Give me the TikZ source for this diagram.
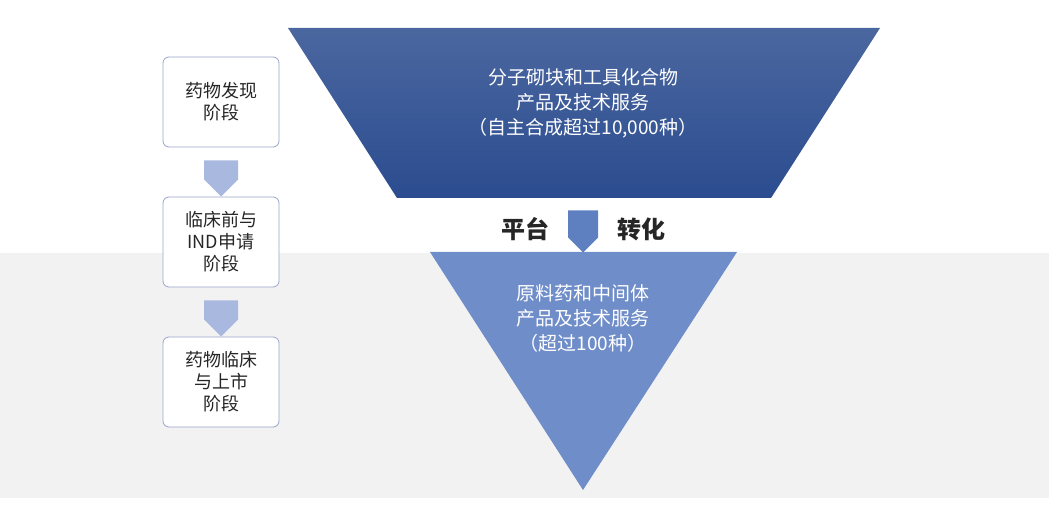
\documentclass[tikz,border=0pt]{standalone}
\usepackage{fontspec}
\setmainfont{Noto Sans CJK SC}
\usetikzlibrary{shapes.arrows}
\definecolor{darkb}{HTML}{2B4C8F}
\definecolor{midb}{HTML}{6F8DC8}
\definecolor{arrb}{HTML}{5F80C0}
\definecolor{lightb}{HTML}{A9B8DE}
\definecolor{bandg}{HTML}{F2F2F2}
\tikzset{
 stagebox/.style={draw=lightb!90!black,line width=0.8pt,rounded corners=6pt,fill=white,minimum width=116pt,minimum height=90pt,align=center,font=\fontsize{18}{22}\selectfont,text=black!85},
 downarr/.style={single arrow,draw=none,fill=lightb,shape border rotate=270,minimum width=34pt,single arrow head extend=0pt,minimum height=36pt,inner sep=4pt},
 bigtxt/.style={align=center,text=white,font=\fontsize{19}{25}\selectfont},
}
\begin{document}
\begin{tikzpicture}[x=1pt,y=-1pt]
\useasboundingbox (0,0) rectangle (1049,510);
\fill[bandg] (0,253) rectangle (1049,498);
\shade[top color=darkb!85!white,bottom color=darkb] (288,28) -- (880,28) -- (771,198) -- (397,198) -- cycle;
\fill[midb] (430,252) -- (737,252) -- (583,490) -- cycle;
\node[bigtxt] (top) at (583,103) {分子砌块和工具化合物\\产品及技术服务\\（自主合成超过10,000种）};
\node[bigtxt] (bot) at (583,318) {原料药和中间体\\产品及技术服务\\（超过100种）};
\node[single arrow,draw=none,fill=arrb,shape border rotate=270,minimum width=30pt,single arrow head extend=0pt,minimum height=42pt,inner sep=3pt] (mid) at (583,224) {};
\node[font=\fontsize{24}{28}\selectfont\bfseries,text=black!85] (pt) at (525,229) {平台};
\node[font=\fontsize{24}{28}\selectfont\bfseries,text=black!85] (zh) at (641,229) {转化};
\node[stagebox] (s1) at (221,102) {药物发现\\阶段};
\node[stagebox] (s2) at (221,242) {临床前与\\IND申请\\阶段};
\node[stagebox] (s3) at (221,382) {药物临床\\与上市\\阶段};
\node[downarr] (a1) at (221,170) {};
\node[downarr] (a2) at (221,310) {};
\end{tikzpicture}
\end{document}
